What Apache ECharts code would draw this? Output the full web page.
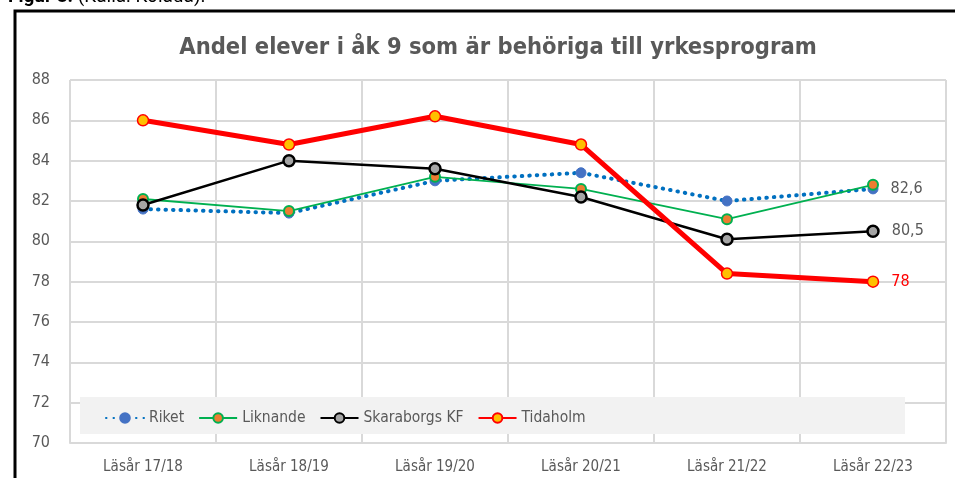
<!DOCTYPE html>
<html>
<head>
<meta charset="utf-8">
<script src="https://cdn.jsdelivr.net/npm/echarts@6/dist/echarts.min.js"></script>
<style>
  html, body { margin: 0; padding: 0; background: #fff; }
  #chart { width: 955px; height: 478px; }
</style>
</head>
<body>
<div id="chart"></div>
<script>
const categories = ['Läsår 17/18', 'Läsår 18/19', 'Läsår 19/20', 'Läsår 20/21', 'Läsår 21/22', 'Läsår 22/23']
const riket = [81.6, 81.4, 83.0, 83.4, 82.0, 82.6]
const liknande = [82.1, 81.5, 83.2, 82.6, 81.1, 82.8]
const skaraborg = [81.8, 84.0, 83.6, 82.2, 80.1, 80.5]
const tidaholm = [86.0, 84.8, 86.2, 84.8, 78.4, 78.0]

const FONT = "'DejaVu Sans Condensed', sans-serif"
const GREY = '#595959'

// etikett bara på sista punkten, med decimalkomma
const lastLabel = (arr, color) => arr.map((v, i) => i === arr.length - 1
  ? {value: v, label: {show: true, position: 'right', distance: 12, color: color, fontSize: 16, fontFamily: FONT,
      formatter: p => String(p.value).replace('.', ',')}}
  : v)

let chart = echarts.init(document.getElementById('chart'))
let option = {
  animation: false,
  textStyle: {fontFamily: FONT},
  title: {
    text: 'Andel elever i åk 9 som är behöriga till yrkesprogram',
    left: 493, textAlign: 'center', top: 31,
    textStyle: {fontSize: 23.5, fontWeight: 'bold', color: GREY, fontFamily: FONT}
  },
  grid: {left: 70, right: 9, top: 80, bottom: 35},
  legend: {
    left: 100, top: 405, z: 6,
    itemGap: 14, itemWidth: 38, itemHeight: 12,
    textStyle: {fontSize: 15.5, color: GREY, fontFamily: FONT}
  },
  graphic: [
    {type: 'rect', z: 5, shape: {x: 80, y: 397, width: 825, height: 37}, style: {fill: '#f2f2f2'}},
    {type: 'rect', z: 10, shape: {x: 15, y: 11, width: 1000, height: 500}, style: {fill: 'none', stroke: '#000', lineWidth: 3}},
    {type: 'text', z: 10, left: 8, top: -12, style: {text: '{b|Figur 8.} (Källa: Kolada).', fontSize: 19, fill: '#000', fontFamily: 'Roboto, sans-serif',
      rich: {b: {fontWeight: 'bold', fontSize: 19, fontFamily: 'Roboto, sans-serif'}}}}
  ],
  xAxis: {
    type: 'category', data: categories, boundaryGap: true,
    axisLine: {lineStyle: {color: '#d9d9d9', width: 2}},
    axisTick: {show: false},
    axisLabel: {color: GREY, fontSize: 15, margin: 17},
    splitLine: {show: true, lineStyle: {color: '#d9d9d9', width: 2}}
  },
  yAxis: {
    type: 'value', min: 70, max: 88, interval: 2,
    axisLine: {show: false}, axisTick: {show: false},
    axisLabel: {color: GREY, fontSize: 16, margin: 20},
    splitLine: {lineStyle: {color: '#d9d9d9', width: 2}}
  },
  series: [
    {
      name: 'Riket', type: 'line', data: lastLabel(riket, GREY),
      symbol: 'circle', symbolSize: 10,
      lineStyle: {color: '#0070c0', width: 4, type: [0.5, 7], cap: 'round'},
      itemStyle: {color: '#4472c4', borderColor: '#4472c4', borderWidth: 1}
    },
    {
      name: 'Liknande', type: 'line', data: liknande,
      symbol: 'circle', symbolSize: 10,
      lineStyle: {color: '#00b050', width: 1.8},
      itemStyle: {color: '#ed7d31', borderColor: '#00b050', borderWidth: 2}
    },
    {
      name: 'Skaraborgs KF', type: 'line', data: lastLabel(skaraborg, GREY),
      symbol: 'circle', symbolSize: 11,
      lineStyle: {color: '#000', width: 2.5},
      itemStyle: {color: '#a5a5a5', borderColor: '#000', borderWidth: 2.5}
    },
    {
      name: 'Tidaholm', type: 'line', data: lastLabel(tidaholm, '#ff0000'),
      symbol: 'circle', symbolSize: 11,
      lineStyle: {color: '#ff0000', width: 5},
      itemStyle: {color: '#ffc000', borderColor: '#ff0000', borderWidth: 1.5}
    }
  ]
}
chart.setOption(option)
</script>
</body>
</html>
